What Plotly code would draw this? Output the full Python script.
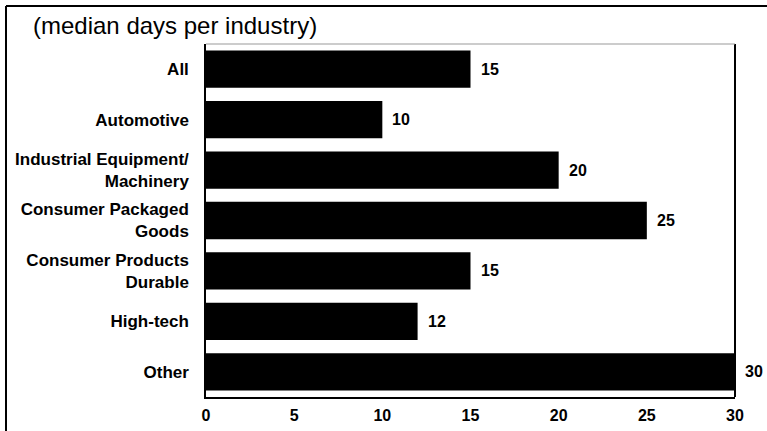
import plotly.graph_objects as go

categories = ["All", "Automotive", "Industrial Equipment/<br>Machinery",
              "Consumer Packaged<br>Goods", "Consumer Products<br>Durable",
              "High-tech", "Other"]
values = [15, 10, 20, 25, 15, 12, 30]
x_ticks = [0, 5, 10, 15, 20, 25, 30]
title_text = "(median days per industry)"

FONT = "Liberation Sans, Arial, Helvetica, sans-serif"
W, H = 767, 431
L, R, T, B = 206, 32, 44, 34
PW, PH = W - L - R, H - T - B

def px(x):
    return (x - L) / PW

def py(y):
    return (H - B - y) / PH

fig = go.Figure()
fig.add_trace(go.Bar(
    x=values, y=categories, orientation="h",
    marker=dict(color="black", line=dict(width=0)),
    hoverinfo="skip",
))

for v, c in zip(values, categories):
    fig.add_annotation(x=v, y=c, text=f"<b>{v}</b>", showarrow=False,
                       xanchor="left", xshift=8,
                       font=dict(family=FONT, size=16, color="black"))

fig.add_annotation(x=px(31), y=py(25), xref="paper", yref="paper", text=title_text,
                   showarrow=False, xanchor="left", yanchor="middle",
                   font=dict(family=FONT, size=24, color="black"))

fig.update_layout(
    width=W, height=H,
    margin=dict(l=L, r=R, t=T, b=B, autoexpand=False),
    paper_bgcolor="white", plot_bgcolor="white",
    bargap=0.26, showlegend=False,
    font=dict(family=FONT, size=17, color="black"),
    xaxis=dict(range=[0, 30], tickvals=x_ticks, ticktext=[f"<b>{t}</b>" for t in x_ticks],
               showgrid=False, zeroline=False, showline=True, linecolor="black",
               linewidth=1.5, ticks="", tickfont=dict(size=16, family=FONT),
               ticklabelstandoff=3, automargin=False),
    yaxis=dict(categoryorder="array", categoryarray=categories,
               range=[6.5, -0.5], showgrid=False, zeroline=False,
               showline=True, linecolor="black", linewidth=1.5, ticks="",
               tickfont=dict(size=17, family=FONT), ticklabelstandoff=12,
               tickvals=categories, ticktext=[f"<b>{c}</b>" for c in categories],
               automargin=False),
)

# plot frame: right black line, top light gray
fig.add_shape(type="line", xref="x domain", yref="y domain", x0=1, x1=1, y0=0, y1=1,
              line=dict(color="black", width=2))
fig.add_shape(type="line", xref="x domain", yref="y domain", x0=0, x1=1, y0=1, y1=1,
              line=dict(color="#999999", width=1))
# outer border (left and top)
fig.add_shape(type="line", xref="paper", yref="paper", x0=px(6), x1=px(6),
              y0=py(H), y1=py(6), line=dict(color="black", width=2))
fig.add_shape(type="line", xref="paper", yref="paper", x0=px(6), x1=px(W),
              y0=py(6), y1=py(6), line=dict(color="black", width=2))

fig.write_html("out.html", config={"displayModeBar": False},
               post_script="document.body.style.margin='0';document.body.style.overflow='hidden';")
